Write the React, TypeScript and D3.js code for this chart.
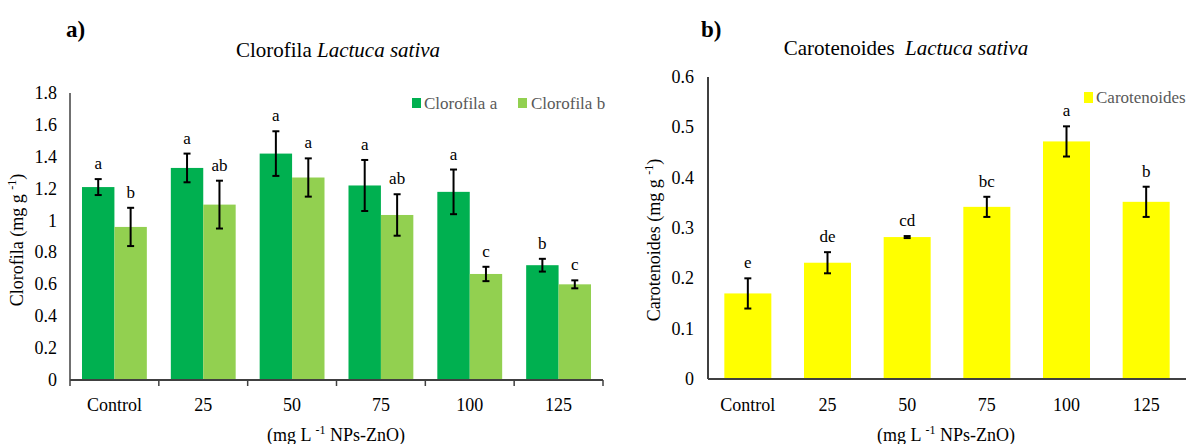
import * as d3 from "d3";
import React from "react";

const categories = ["Control", "25", "50", "75", "100", "125"];

const chlA = [1.21, 1.33, 1.42, 1.22, 1.18, 0.72];
const chlAErr = [0.05, 0.09, 0.14, 0.16, 0.14, 0.04];
const chlALetters = ["a", "a", "a", "a", "a", "b"];

const chlB = [0.96, 1.1, 1.27, 1.035, 0.665, 0.6];
const chlBErr = [0.12, 0.15, 0.12, 0.13, 0.045, 0.025];
const chlBLetters = ["b", "ab", "a", "ab", "c", "c"];

const carot = [0.17, 0.231, 0.282, 0.342, 0.472, 0.352];
const carotErr = [0.03, 0.021, 0.002, 0.02, 0.03, 0.03];
const carotLetters = ["e", "de", "cd", "bc", "a", "b"];

const chlTicks = [0, 0.2, 0.4, 0.6, 0.8, 1, 1.2, 1.4, 1.6, 1.8];
const carotTicks = [0, 0.1, 0.2, 0.3, 0.4, 0.5, 0.6];

const FONT = "Liberation Serif";
const GREEN_A = "#00B050";
const GREEN_B = "#92D050";
const YELLOW = "#FFFF00";

const ErrBar = ({ x, yTop, yBot }: { x: number; yTop: number; yBot: number }) => (
  <g stroke="#000" strokeWidth={2}>
    <line x1={x} x2={x} y1={yTop} y2={yBot} />
    <line x1={x - 3.5} x2={x + 3.5} y1={yTop} y2={yTop} />
    <line x1={x - 3.5} x2={x + 3.5} y1={yBot} y2={yBot} />
  </g>
);

const App = () => {
  // left chart scales
  const yL = d3.scaleLinear().domain([0, 1.8]).range([380, 93]);
  const xL = d3.scaleBand().domain(categories).range([70, 603]).padding(0);
  const inner = d3
    .scaleBand()
    .domain(["a", "b"])
    .range([0, xL.bandwidth()])
    .paddingInner(0)
    .paddingOuter(0.37);

  // right chart scales
  const yR = d3.scaleLinear().domain([0, 0.6]).range([379, 77]);
  const xR = d3
    .scaleBand()
    .domain(categories)
    .range([708, 1186])
    .paddingInner(0.41)
    .paddingOuter(0.205);

  const series = [
    { key: "a", vals: chlA, err: chlAErr, letters: chlALetters, color: GREEN_A },
    { key: "b", vals: chlB, err: chlBErr, letters: chlBLetters, color: GREEN_B },
  ];

  const fmt = (v: number) => d3.format("~g")(+v.toFixed(2));

  return (
    <svg width={1186} height={444} style={{ position: "absolute", left: 0, top: 0, background: "#fff", fontFamily: FONT }}>
      <style>{`text { font-family: "Liberation Serif", serif; }`}</style>
      <rect width={1186} height={444} fill="#fff" />

      {/* ---------- a) Clorofila ---------- */}
      <text x={66} y={37} fontSize={23} fontWeight="bold">a)</text>
      <text x={338} y={57} fontSize={21} textAnchor="middle">
        Clorofila <tspan fontStyle="italic">Lactuca sativa</tspan>
      </text>

      {chlTicks.map((t) => (
        <text key={t} x={57} y={yL(t) + 6} fontSize={18} textAnchor="end">{fmt(t)}</text>
      ))}

      {series.map((s) =>
        categories.map((c, i) => {
          const x = (xL(c) as number) + (inner(s.key) as number);
          const w = inner.bandwidth();
          const cx = x + w / 2;
          const top = yL(s.vals[i] + s.err[i]);
          return (
            <g key={s.key + c}>
              <rect x={x} y={yL(s.vals[i])} width={w} height={yL(0) - yL(s.vals[i])} fill={s.color} />
              <ErrBar x={cx} yTop={top} yBot={yL(s.vals[i] - s.err[i])} />
              <text x={cx} y={top - 10} fontSize={17} textAnchor="middle">{s.letters[i]}</text>
            </g>
          );
        })
      )}

      <line x1={70} x2={70} y1={93} y2={380} stroke="#404040" strokeWidth={1.5} />
      <line x1={70} x2={603} y1={380} y2={380} stroke="#404040" strokeWidth={2} />
      {[...categories.map((c) => xL(c) as number), 603].map((x, i) => (
        <line key={i} x1={x} x2={x} y1={380} y2={386} stroke="#404040" strokeWidth={1.5} />
      ))}
      {categories.map((c) => (
        <text key={c} x={(xL(c) as number) + xL.bandwidth() / 2} y={411} fontSize={18} textAnchor="middle">{c}</text>
      ))}
      <text x={336} y={441} fontSize={18} textAnchor="middle">
        (mg L <tspan fontSize={12} dy={-7}>-1</tspan><tspan dy={7}> NPs-ZnO)</tspan>
      </text>
      <text transform="translate(23,240) rotate(-90)" fontSize={18} textAnchor="middle">
        Clorofila (mg g <tspan fontSize={12} dy={-7}>-1</tspan><tspan dy={7}>)</tspan>
      </text>

      {/* legend */}
      <rect x={412} y={98} width={9} height={10} fill={GREEN_A} />
      <text x={424} y={109} fontSize={17} fill="#595959">Clorofila a</text>
      <rect x={518} y={98} width={9} height={10} fill={GREEN_B} />
      <text x={531} y={109} fontSize={17} fill="#595959">Clorofila b</text>

      {/* ---------- b) Carotenoides ---------- */}
      <text x={701} y={37} fontSize={23} fontWeight="bold">b)</text>
      <text x={906} y={55} fontSize={21} textAnchor="middle" style={{ whiteSpace: "pre" }}>
        {"Carotenoides  "}<tspan fontStyle="italic">Lactuca sativa</tspan>
      </text>

      {carotTicks.map((t) => (
        <text key={t} x={694} y={yR(t) + 6} fontSize={18} textAnchor="end">{fmt(t)}</text>
      ))}

      {categories.map((c, i) => {
        const x = xR(c) as number;
        const w = xR.bandwidth();
        const cx = x + w / 2;
        const top = yR(carot[i] + carotErr[i]);
        return (
          <g key={c}>
            <rect x={x} y={yR(carot[i])} width={w} height={yR(0) - yR(carot[i])} fill={YELLOW} />
            <ErrBar x={cx} yTop={top} yBot={yR(carot[i] - carotErr[i])} />
            <text x={cx} y={top - 10} fontSize={17} textAnchor="middle">{carotLetters[i]}</text>
            <text x={cx} y={411} fontSize={18} textAnchor="middle">{c}</text>
          </g>
        );
      })}

      <line x1={708} x2={708} y1={77} y2={379} stroke="#000" strokeWidth={1.5} />
      <line x1={708} x2={1186} y1={379} y2={379} stroke="#404040" strokeWidth={2} />
      <text x={946} y={441} fontSize={18} textAnchor="middle">
        (mg L <tspan fontSize={12} dy={-7}>-1</tspan><tspan dy={7}> NPs-ZnO)</tspan>
      </text>
      <text transform="translate(660,240) rotate(-90)" fontSize={18} textAnchor="middle">
        Carotenoides (mg g <tspan fontSize={12} dy={-7}>-1</tspan><tspan dy={7}>)</tspan>
      </text>

      <rect x={1084} y={92} width={9} height={11} fill={YELLOW} />
      <text x={1096} y={103} fontSize={17} fill="#595959">Carotenoides</text>
    </svg>
  );
};

export default App;
